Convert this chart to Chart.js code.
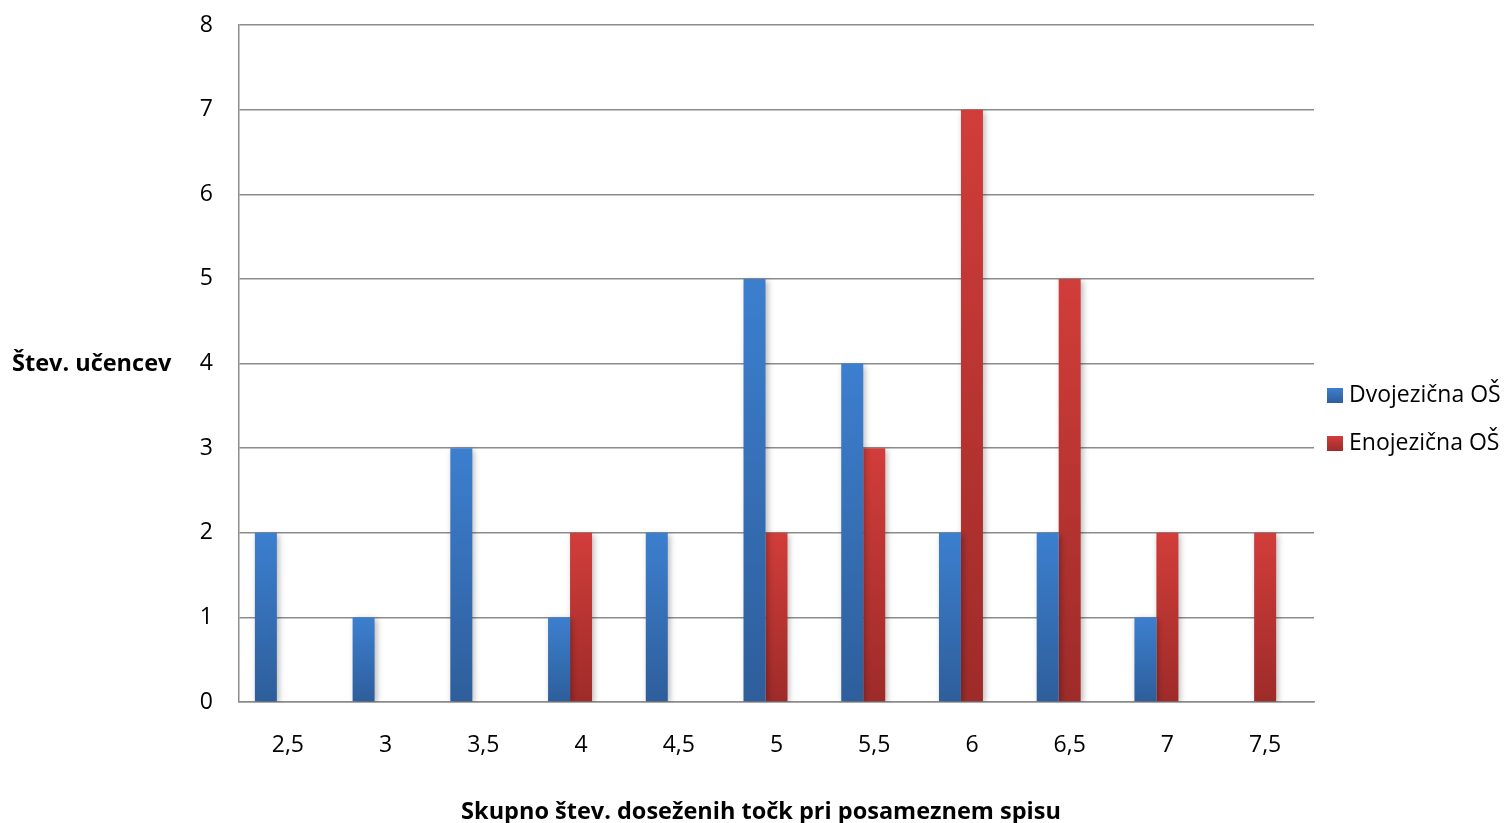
<!DOCTYPE html>
<html>
<head>
	<meta charset="utf-8">
	<title></title>
	<script src="https://cdn.jsdelivr.net/npm/chart.js@4/dist/chart.umd.min.js"></script>
	<style>
		body { margin: 0; background: #fff; font-family: "Open Sans", sans-serif; }
		#wrap { position: relative; width: 1504px; height: 823px; }
		#ytitle { position: absolute; left: 12px; top: 346px; line-height: 32px; font-weight: bold; font-size: 23.5px; color: #000; white-space: nowrap; }
		#xtitle { position: absolute; left: 261px; width: 1000px; top: 794px; line-height: 32px; text-align: center; font-weight: bold; font-size: 23.5px; color: #000; white-space: nowrap; }
		#legend { position: absolute; left: 1327px; top: 377px; font-size: 23px; color: #000; }
		#legend div { height: 48px; line-height: 32px; white-space: nowrap; }
		#legend span { display: inline-block; width: 16px; height: 15px; margin-right: 6px; vertical-align: -1px; }
	</style>
</head>
<body>
	<div id="wrap">
		<canvas id="chart" width="1504" height="823"></canvas>
		<div id="ytitle">Štev. učencev</div>
		<div id="xtitle">Skupno štev. doseženih točk pri posameznem spisu</div>
		<div id="legend">
			<div><span style="background:linear-gradient(#3c7fcf,#2e5e9b)"></span>Dvojezična OŠ</div>
			<div><span style="background:linear-gradient(#d13d3a,#9e2b29)"></span>Enojezična OŠ</div>
		</div>
	</div>
	<script>
		var categories = ["2,5", "3", "3,5", "4", "4,5", "5", "5,5", "6", "6,5", "7", "7,5"];
		var dvojezicna = [2, 1, 3, 1, 2, 5, 4, 2, 2, 1, 0];
		var enojezicna = [0, 0, 0, 2, 0, 2, 3, 7, 5, 2, 2];
		var yTicks = [0, 1, 2, 3, 4, 5, 6, 7, 8];

		function gradient(top, bottom) {
			return function(c) {
				var chart = c.chart;
				if (!chart.chartArea || c.type !== 'data') return top;
				var y = chart.scales.y;
				var y0 = y.getPixelForValue(c.raw || 0);
				var y1 = y.getPixelForValue(0);
				if (y1 - y0 < 1) return top;
				var g = chart.ctx.createLinearGradient(0, y0, 0, y1);
				g.addColorStop(0, top);
				g.addColorStop(1, bottom);
				return g;
			};
		}

		var shadow = {
			id: 'shadow',
			beforeDatasetsDraw: function(chart) {
				var ctx = chart.ctx;
				ctx.save();
				ctx.shadowColor = 'rgba(0,0,0,0.28)';
				ctx.shadowBlur = 6;
				ctx.shadowOffsetX = 2;
				ctx.shadowOffsetY = 2;
			},
			afterDatasetsDraw: function(chart) {
				chart.ctx.restore();
			}
		};

		var gridColor = '#8c8c8c';
		var font = 'Open Sans';
		var canvas = document.getElementById('chart').getContext('2d');
		window.bar = new Chart(canvas, {
			type: 'bar',
			data: {
				labels: categories,
				datasets: [{
					label: 'Dvojezična OŠ',
					data: dvojezicna,
					backgroundColor: gradient('#3c7fcf', '#2e5e9b')
				}, {
					label: 'Enojezična OŠ',
					data: enojezicna,
					backgroundColor: gradient('#d13d3a', '#9e2b29')
				}, {
					label: '',
					data: categories.map(function() { return null; }),
					backgroundColor: 'rgba(0,0,0,0)'
				}]
			},
			options: {
				responsive: false,
				animation: false,
				layout: { padding: { left: 0, right: 190, top: 25, bottom: 0 } },
				datasets: { bar: { categoryPercentage: 0.675, barPercentage: 1.0, borderWidth: 0 } },
				plugins: { legend: { display: false }, tooltip: { enabled: false } },
				scales: {
					x: {
						grid: { display: false },
						border: { display: true, color: gridColor, width: 1.5 },
						ticks: { color: '#000', padding: 22, font: { family: font, size: 23 } },
						afterFit: function(s) { s.height = 121; }
					},
					y: {
						min: 0,
						max: 8,
						afterBuildTicks: function(s) { s.ticks = yTicks.map(function(v) { return { value: v }; }); },
						grid: { color: gridColor, lineWidth: 1.5, drawTicks: false },
						border: { display: true, color: gridColor, width: 1.5 },
						ticks: { color: '#000', padding: 26, font: { family: font, size: 23 } },
						afterFit: function(s) { s.width = 239; s.paddingTop = 0; s.paddingBottom = 0; }
					}
				}
			},
			plugins: [shadow]
		});
	</script>
</body>
</html>
